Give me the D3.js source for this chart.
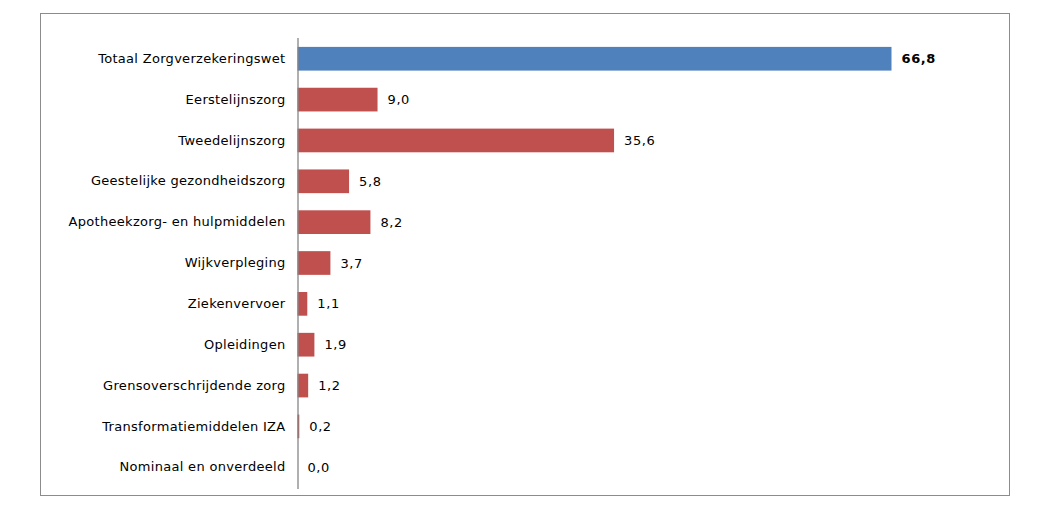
<!DOCTYPE html>
<html>
<head>
<meta charset="utf-8">
<script src="https://cdn.jsdelivr.net/npm/d3@7"></script>
<style>
  body { margin: 0; background: #fff; }
  text { font-family: "DejaVu Sans", Verdana, sans-serif; }
</style>
</head>
<body>
<div class="container"></div>
<script>
const categories = [
  "Totaal Zorgverzekeringswet",
  "Eerstelijnszorg",
  "Tweedelijnszorg",
  "Geestelijke gezondheidszorg",
  "Apotheekzorg- en hulpmiddelen",
  "Wijkverpleging",
  "Ziekenvervoer",
  "Opleidingen",
  "Grensoverschrijdende zorg",
  "Transformatiemiddelen IZA",
  "Nominaal en onverdeeld"
]
const values = [66.8, 9.0, 35.6, 5.8, 8.2, 3.7, 1.1, 1.9, 1.2, 0.2, 0.0]
const totalLabel = "Totaal Zorgverzekeringswet"

const svg = d3.select(".container")
              .append("svg")
              .attr("width", 1050)
              .attr("height", 516)

// frame
svg.append("rect")
   .attr("x", 40.5)
   .attr("y", 13.5)
   .attr("width", 969)
   .attr("height", 482)
   .attr("fill", "#fff")
   .attr("stroke", "#8c8c8c")
   .attr("stroke-width", 1)

const x = d3.scaleLinear()
            .domain([0, 66.8])
            .range([297.5, 891.5])

const y = d3.scaleBand()
            .domain(categories)
            .range([37.5, 488.5])
            .paddingInner(0.42)
            .paddingOuter(0.23)

const fmt = (v)=> d3.format(".1f")(v).replace(".", ",")

svg.selectAll(".bar")
   .data(categories)
   .enter()
   .append("rect")
   .attr("class", "bar")
   .attr("x", x(0))
   .attr("y", (d)=> y(d))
   .attr("width", (d, i)=> x(values[i]) - x(0))
   .attr("height", y.bandwidth())
   .attr("fill", (d)=> d === totalLabel ? "#4f81bd" : "#c0504d")

svg.selectAll(".value")
   .data(categories)
   .enter()
   .append("text")
   .attr("class", "value")
   .attr("x", (d, i)=> x(values[i]) + 10)
   .attr("y", (d)=> y(d) + y.bandwidth() / 2)
   .attr("dy", "0.35em")
   .attr("font-size", 13)
   .attr("letter-spacing", 0.6)
   .attr("font-weight", (d)=> d === totalLabel ? "bold" : "normal")
   .attr("fill", "#000")
   .text((d, i)=> fmt(values[i]))

const yAxis = d3.axisLeft(y).tickSize(0).tickPadding(12)

const gy = svg.append("g")
              .attr("transform", "translate(" + x(0) + ",0)")
              .call(yAxis)

gy.select(".domain").attr("stroke", "#868686").attr("stroke-width", 1.3)
gy.selectAll("text")
  .attr("font-size", 13)
  .attr("letter-spacing", 0.3)
  .attr("font-family", "'DejaVu Sans', Verdana, sans-serif")
  .attr("fill", "#000")
</script>
</body>
</html>
